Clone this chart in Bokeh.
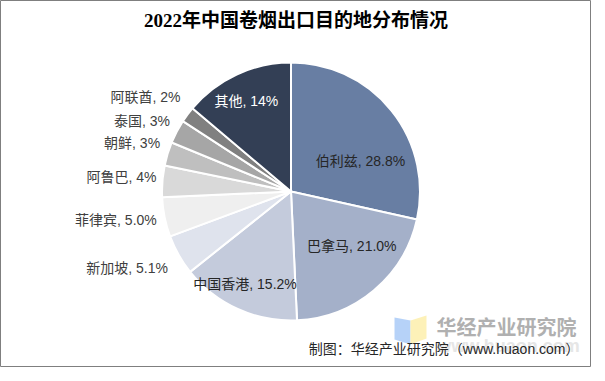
import math
from bokeh.plotting import figure
from bokeh.models import ColumnDataSource, Range1d, Label, Title
from bokeh.core.properties import value
from bokeh.embed import file_html
from bokeh.resources import INLINE

# ---- data ----
countries = ["伯利兹", "巴拿马", "中国香港", "新加坡", "菲律宾", "阿鲁巴", "朝鲜", "泰国", "阿联酋", "其他"]
shares = [28.8, 21.0, 15.2, 5.1, 5.0, 4, 3, 3, 2, 14]
share_text = ["28.8%", "21.0%", "15.2%", "5.1%", "5.0%", "4%", "3%", "3%", "2%", "14%"]
title_text = "2022年中国卷烟出口目的地分布情况"
source_text = "制图：华经产业研究院（www.huaon.com）"

# ---- styles / layout ----
colors = ["#687ea3", "#a4b0c9", "#c4cbdc", "#dfe3ed", "#efefef",
          "#d9d9d9", "#bfbfbf", "#a6a6a6", "#808080", "#333f55"]
inside = [True, True, True, False, False, False, False, False, False, True]
label_colors = ["#262626", "#262626", "#262626", "#404040", "#404040",
                "#404040", "#404040", "#404040", "#404040", "#ffffff"]
# layout nudges for the data labels (pixels, y up)
nudge_x = [9, 11, -14, -2, 2, 4, 2, 2, 1, -12]
nudge_y = [-18, 5, -22, -8, -1, 3, 8, 6, 12, 20]

W, H = 591, 367
CX, CY, R = 290.5, 176, 129
FONT = "'Liberation Sans', 'Noto Sans CJK SC', sans-serif"

total = sum(shares)
starts, ends, mids = [], [], []
acc = 0.0
for s in shares:
    a0 = math.pi / 2 - acc / total * 2 * math.pi
    acc += s
    a1 = math.pi / 2 - acc / total * 2 * math.pi
    starts.append(a0)
    ends.append(a1)
    mids.append((a0 + a1) / 2)

p = figure(width=W, height=H, output_backend="svg", toolbar_location=None,
           x_range=Range1d(0, W), y_range=Range1d(0, H), min_border=0)
p.xaxis.visible = False
p.yaxis.visible = False
p.xgrid.visible = False
p.ygrid.visible = False
p.outline_line_color = "#7f7f7f"
p.outline_line_width = 1
p.background_fill_color = "white"
p.border_fill_color = "white"

src = ColumnDataSource(dict(start=starts, end=ends, color=colors))
p.wedge(x=CX, y=CY, radius=R, start_angle="start", end_angle="end",
        direction="clock", fill_color="color", line_color="white",
        line_width=2, source=src)

in_d = dict(x=[], y=[], t=[], c=[])
out_d = dict(x=[], y=[], t=[], c=[])
for i, name in enumerate(countries):
    m = mids[i]
    txt = f"{name}, {share_text[i]}"
    if inside[i]:
        r = 0.6 * R
        d = in_d
    else:
        r = R + 10
        d = out_d
    d["x"].append(CX + r * math.cos(m) + nudge_x[i])
    d["y"].append(CY + r * math.sin(m) + nudge_y[i])
    d["t"].append(txt)
    d["c"].append(label_colors[i])

p.text(x="x", y="y", text="t", text_color="c", source=ColumnDataSource(in_d),
       text_font=value(FONT), text_font_size="14px",
       text_align="center", text_baseline="middle")
p.text(x="x", y="y", text="t", text_color="c", source=ColumnDataSource(out_d),
       text_font=value(FONT), text_font_size="14px",
       text_align="right", text_baseline="middle")

# title
p.add_layout(Label(x=W / 2, y=H - 20, text=title_text, text_align="center",
                   text_baseline="middle", text_font_size="19px",
                   text_font="'Liberation Serif', 'Noto Sans CJK SC', serif",
                   text_font_style="bold", text_color="#000000"))

# watermark logo (book shape) and text
p.patch(x=[394, 410, 410, 394], y=[50, 47, 23, 28], fill_color="#aecdf7",
        line_color=None, fill_alpha=0.9)
p.patch(x=[410, 426, 426, 410], y=[47, 52, 29, 23], fill_color="#fdf0b0",
        line_color=None, fill_alpha=0.9)
p.add_layout(Label(x=506, y=40, text="华经产业研究院", text_align="center",
                   text_baseline="middle", text_font_size="20px",
                   text_font=FONT, text_font_style="bold", text_color="#b0b0b0"))
p.add_layout(Label(x=508, y=22, text="www.huaon.com", text_align="center",
                   text_baseline="middle", text_font_size="18px",
                   text_font=FONT, text_font_style="bold", text_color="#e6e6e6"))

# source note
p.add_layout(Label(x=W - 12, y=19, text=source_text, text_align="right",
                   text_baseline="middle", text_font_size="14px",
                   text_font=FONT, text_color="#262626"))

open("out.html", "w").write(file_html(p, INLINE))
